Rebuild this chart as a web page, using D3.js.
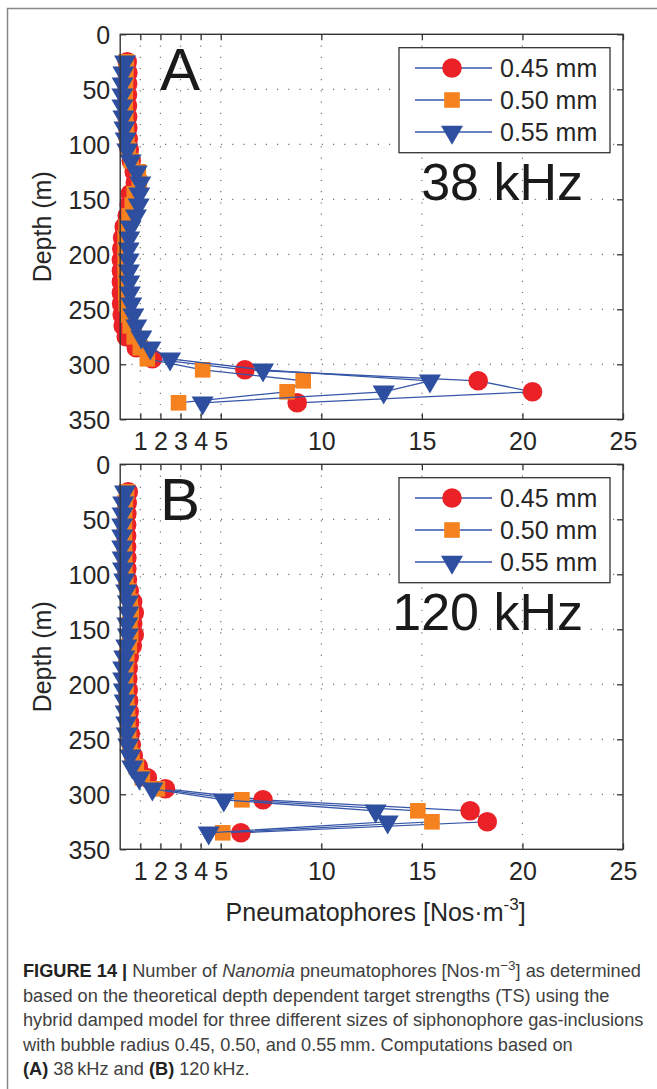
<!DOCTYPE html>
<html>
<head>
<meta charset="utf-8">
<script src="https://cdn.jsdelivr.net/npm/d3@7/dist/d3.min.js"></script>
<style>
body{margin:0;background:#fff;}
svg text{font-family:"Liberation Sans",Arial,Helvetica,sans-serif;}
</style>
</head>
<body>
<div id="figure"></div>
<script>

// depth of every sample (m)
var depths = [25,35,45,55,65,75,85,95,105,115,125,135,145,155,165,175,185,195,205,215,225,235,245,255,265,275,285,295,305,315,325,335];

// panel A, 38 kHz
var a_045 = [0.35,0.38,0.37,0.36,0.36,0.37,0.38,0.40,0.45,0.55,0.70,0.75,0.50,0.45,0.35,0.20,0.12,0.08,0.06,0.06,0.06,0.06,0.07,0.10,0.15,0.30,0.80,1.60,6.2,17.8,20.5,8.8];
var a_050 = [0.30,0.28,0.26,0.25,0.25,0.27,0.30,0.33,0.40,0.55,0.90,0.95,0.70,0.60,0.45,0.30,0.25,0.25,0.25,0.25,0.27,0.28,0.30,0.40,0.50,0.70,1.00,1.35,4.1,9.1,8.3,2.9];
var a_055 = [0.24,0.16,0.12,0.11,0.11,0.16,0.21,0.27,0.35,0.52,0.82,1.00,0.95,0.92,0.78,0.52,0.45,0.42,0.42,0.43,0.45,0.48,0.55,0.65,0.80,1.05,1.50,2.48,7.1,15.4,13.1,4.1];

// panel B, 120 kHz
var b_045 = [0.40,0.35,0.33,0.32,0.32,0.32,0.33,0.33,0.36,0.45,0.62,0.70,0.62,0.70,0.60,0.45,0.40,0.38,0.40,0.42,0.45,0.47,0.50,0.55,0.65,0.90,1.35,2.25,7.1,17.4,18.25,6.0];
var b_050 = [0.32,0.25,0.22,0.21,0.21,0.21,0.22,0.23,0.28,0.38,0.50,0.55,0.48,0.52,0.45,0.32,0.28,0.27,0.29,0.32,0.36,0.38,0.42,0.48,0.58,0.80,1.10,1.85,6.05,14.8,15.5,5.1];
var b_055 = [0.24,0.15,0.12,0.10,0.10,0.10,0.12,0.14,0.20,0.30,0.38,0.40,0.35,0.38,0.30,0.20,0.15,0.15,0.18,0.22,0.27,0.30,0.33,0.40,0.50,0.60,0.95,1.60,5.15,12.7,13.3,4.4];

var series_names = ["0.45 mm", "0.50 mm", "0.55 mm"];
var series_kinds = ["circle", "square", "triangle"];
var marker_colors = ["#ea2227", "#f5821f", "#2e4f9f"];
var line_color = "#3656a8";

var x_ticks = [1,2,3,4,5,10,15,20,25];
var x_grid = [1,2,3,4,5,10,15,20];
var y_ticks = [0,50,100,150,200,250,300,350];
var y_grid = [50,100,150,200,250,300];

var panel_letters = ["A", "B"];
var panel_freqs = ["38 kHz", "120 kHz"];

var caption_lines = [
	[{t:"FIGURE 14 | ", b:1}, {t:"Number of "}, {t:"Nanomia", i:1}, {t:" pneumatophores [Nos\u00b7m"}, {t:"\u22123", sup:1}, {t:"] as determined"}],
	[{t:"based on the theoretical depth dependent target strengths (TS) using the"}],
	[{t:"hybrid damped model for three different sizes of siphonophore gas-inclusions"}],
	[{t:"with bubble radius 0.45, 0.50, and 0.55\u2009mm. Computations based on"}],
	[{t:"(A)", b:1}, {t:" 38\u2009kHz and "}, {t:"(B)", b:1}, {t:" 120\u2009kHz."}]
];

var W = 657, H = 1089;
var plot_left = 120.2, plot_right = 623, plot_h = 385;
var panel_tops = [34.3, 464.3];

function marker(sel, kind, color){
	// draw one marker shape into sel (a g translated to the point)
	if(kind == "circle"){
		sel.append("circle").attr("r", 9.8).attr("fill", color);
	} else if(kind == "square"){
		sel.append("rect").attr("x", -7.8).attr("y", -7.8).attr("width", 15.6).attr("height", 15.6).attr("fill", color);
	} else {
		sel.append("path").attr("d", d3.symbol(d3.symbolTriangle, 210)()).attr("transform", "rotate(180)").attr("fill", color);
	}
}

function render_panel(svg, idx, series_list){
	var top = panel_tops[idx];
	var x = d3.scaleLinear().domain([0, 25]).range([plot_left, plot_right]);
	var y = d3.scaleLinear().domain([0, 350]).range([top, top + plot_h]);
	var g = svg.append("g");

	// dotted grid
	g.selectAll(".vg").data(x_grid).enter().append("line")
		.attr("x1", d => x(d)).attr("x2", d => x(d))
		.attr("y1", top).attr("y2", top + plot_h)
		.attr("stroke", "#777").attr("stroke-width", 1.2).attr("stroke-dasharray", "1.2,10");
	g.selectAll(".hg").data(y_grid).enter().append("line")
		.attr("y1", d => y(d)).attr("y2", d => y(d))
		.attr("x1", plot_left).attr("x2", plot_right)
		.attr("stroke", "#777").attr("stroke-width", 1.2).attr("stroke-dasharray", "1.2,10");

	// axes, ticks pointing inside like matlab
	var ax_b = g.append("g").attr("transform", "translate(0," + (top + plot_h) + ")")
		.call(d3.axisBottom(x).tickValues(x_ticks).tickSizeInner(-6).tickSizeOuter(0).tickPadding(13));
	var ax_t = g.append("g").attr("transform", "translate(0," + top + ")")
		.call(d3.axisTop(x).tickValues(x_ticks).tickSizeInner(-6).tickSizeOuter(0).tickFormat(""));
	var ax_l = g.append("g").attr("transform", "translate(" + plot_left + ",0)")
		.call(d3.axisLeft(y).tickValues(y_ticks).tickSizeInner(-6).tickSizeOuter(0).tickPadding(10));
	var ax_r = g.append("g").attr("transform", "translate(" + plot_right + ",0)")
		.call(d3.axisRight(y).tickValues(y_ticks).tickSizeInner(-6).tickSizeOuter(0).tickFormat(""));
	[ax_b, ax_t, ax_l, ax_r].forEach(function(a){
		a.select(".domain").remove();
		a.selectAll(".tick line").attr("stroke", "#333").attr("stroke-width", 1.3);
		a.selectAll("text").attr("font-size", 25).attr("fill", "#262626")
			.attr("font-family", "'Liberation Sans',Arial,sans-serif");
	});
	ax_l.selectAll("text").attr("dy", "0.36em");

	// data: line then markers, one series after another
	var line = d3.line().x(d => x(d.v)).y(d => y(d.d));
	series_list.forEach(function(vals, s){
		var pts = vals.map(function(v, i){ return {v: v, d: depths[i]}; });
		g.append("path").datum(pts).attr("d", line)
			.attr("fill", "none").attr("stroke", line_color).attr("stroke-width", 1.3);
		g.selectAll(".m" + s).data(pts).enter().append("g")
			.attr("transform", d => "translate(" + x(d.v) + "," + y(d.d) + ")")
			.each(function(){ marker(d3.select(this), series_kinds[s], marker_colors[s]); });
	});

	// box
	g.append("rect").attr("x", plot_left).attr("y", top)
		.attr("width", plot_right - plot_left).attr("height", plot_h)
		.attr("fill", "none").attr("stroke", "#333").attr("stroke-width", 1.4);

	// legend
	var lg = g.append("g").attr("transform", "translate(399," + (top + 13.4) + ")");
	lg.append("rect").attr("width", 211).attr("height", 105)
		.attr("fill", "#fff").attr("stroke", "#333").attr("stroke-width", 1.3);
	series_names.forEach(function(name, s){
		var row = lg.append("g").attr("transform", "translate(0," + (20.3 + s * 32) + ")");
		row.append("line").attr("x1", 16).attr("x2", 93).attr("stroke", line_color).attr("stroke-width", 1.3);
		marker(row.append("g").attr("transform", "translate(53,0)"), series_kinds[s], marker_colors[s]);
		row.append("text").attr("x", 101).attr("dy", "0.36em").attr("font-size", 25).attr("fill", "#262626").text(name);
	});

	// panel letter and frequency
	g.append("text").attr("x", 160).attr("y", top + 56).attr("font-size", 60).attr("fill", "#1a1a1a").text(panel_letters[idx]);
	g.append("text").attr("x", 583).attr("y", top + 166).attr("text-anchor", "end")
		.attr("font-size", 52).attr("fill", "#1a1a1a").text(panel_freqs[idx]);

	// y label
	g.append("text").attr("transform", "translate(51," + (top + plot_h / 2) + ") rotate(-90)")
		.attr("text-anchor", "middle").attr("font-size", 25).attr("fill", "#262626").text("Depth (m)");
}

function init(){
	var svg = d3.select("#figure").append("svg").attr("width", W).attr("height", H);
	svg.append("rect").attr("width", W).attr("height", H).attr("fill", "#fff");

	// frame round the figure
	svg.append("path").attr("d", "M7.5," + H + "V8.5H" + W)
		.attr("fill", "none").attr("stroke", "#888").attr("stroke-width", 1.5);

	render_panel(svg, 0, [a_045, a_050, a_055]);
	render_panel(svg, 1, [b_045, b_050, b_055]);

	// x label
	var xl = svg.append("text").attr("x", (plot_left + plot_right) / 2 + 4).attr("y", 921)
		.attr("text-anchor", "middle").attr("font-size", 25).attr("fill", "#262626");
	xl.append("tspan").text("Pneumatophores [Nos\u00b7m");
	xl.append("tspan").attr("dy", -11).attr("font-size", 17).text("-3");
	xl.append("tspan").attr("dy", 11).text("]");

	// caption
	caption_lines.forEach(function(parts, i){
		var t = svg.append("text").attr("x", 23).attr("y", 977 + i * 24.6)
			.attr("font-size", 18.2).attr("fill", "#404040");
		var up = false;
		parts.forEach(function(p){
			var sp = t.append("tspan").text(p.t);
			if(p.b) sp.attr("font-weight", "bold").attr("fill", "#222");
			if(p.i) sp.attr("font-style", "italic");
			if(p.sup){ sp.attr("dy", -7).attr("font-size", 13.5); up = true; }
			else if(up){ sp.attr("dy", 7); up = false; }
		});
	});
}

window.onload = init;
</script>
</body>
</html>
